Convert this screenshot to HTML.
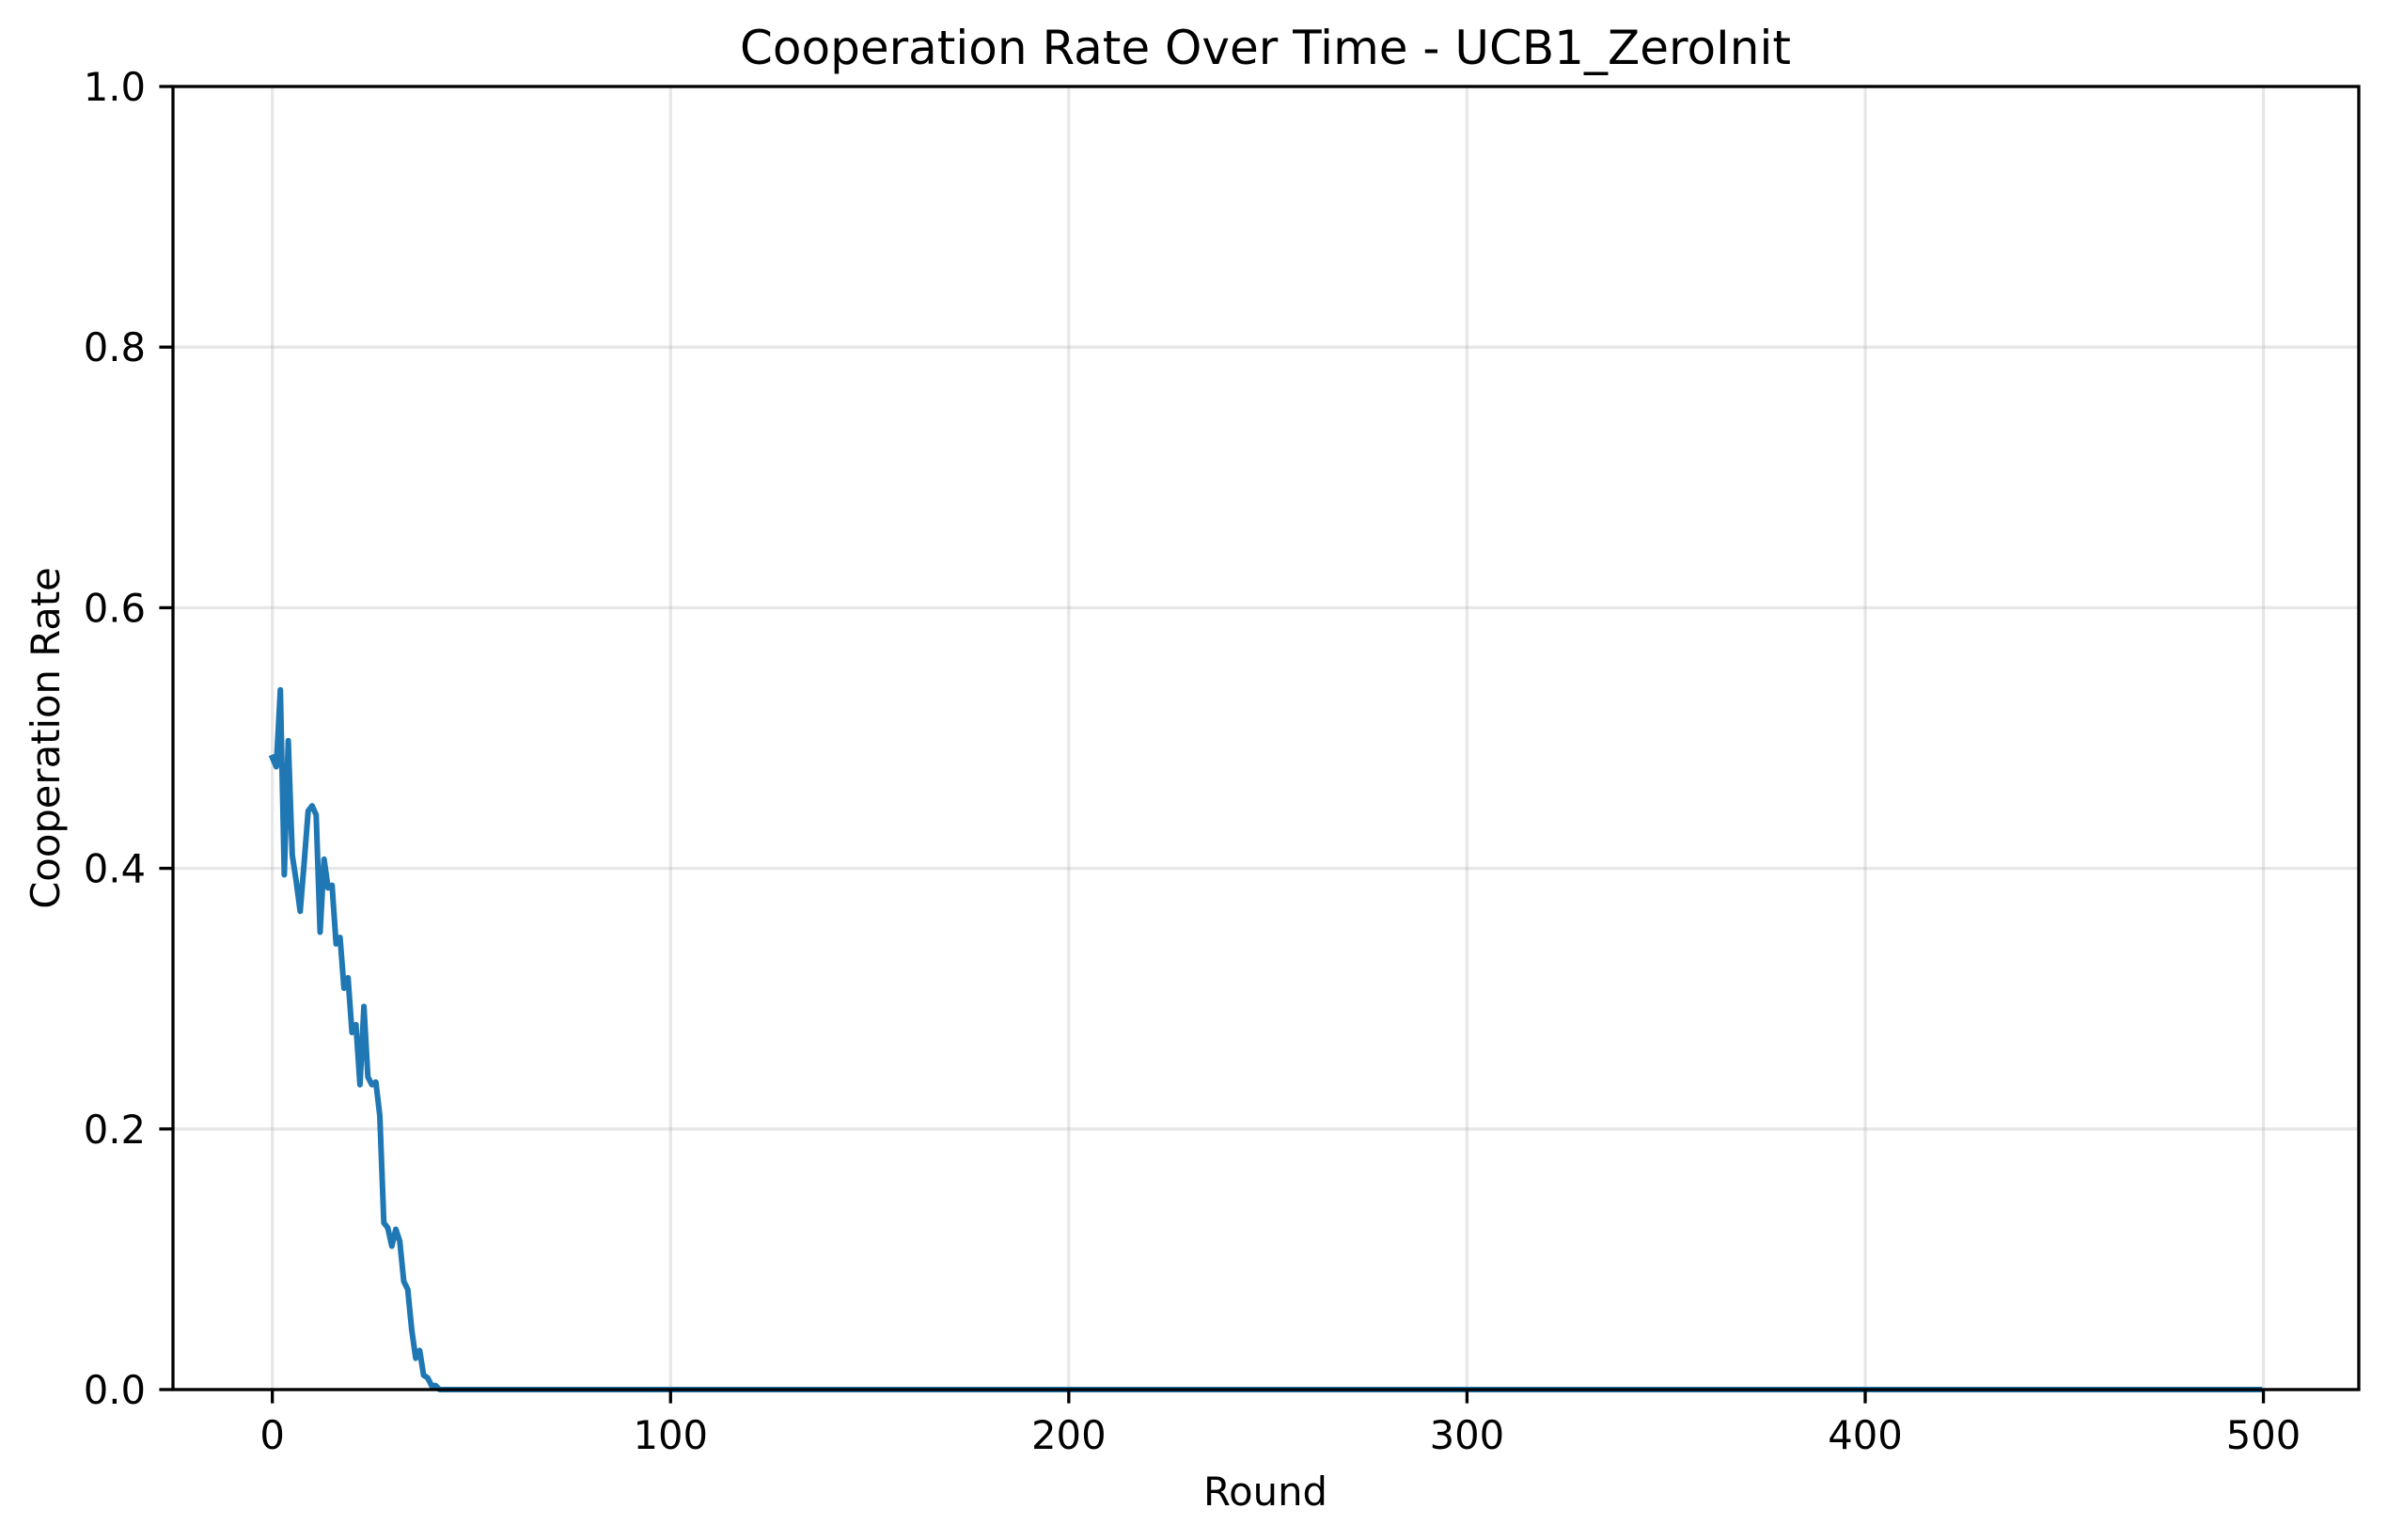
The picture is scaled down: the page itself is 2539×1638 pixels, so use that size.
<!DOCTYPE html>
<html><head><meta charset="utf-8"><style>
html,body{margin:0;padding:0;background:#fff;}
svg{display:block;font-family:"DejaVu Sans","Liberation Sans",sans-serif;}
</style></head><body>
<svg id="chart" width="2539" height="1638" viewBox="0 0 2539 1638" xmlns="http://www.w3.org/2000/svg">
<rect width="2539" height="1638" fill="#fff"/>
<g id="grid"></g>
<g id="series"></g>
<g id="axes"></g>
<text x="1346" y="68" font-size="50" text-anchor="middle">Cooperation Rate Over Time - UCB1_ZeroInit</text>
<text x="1346" y="1601" font-size="41.7" text-anchor="middle">Round</text>
<text x="0" y="0" font-size="41.7" text-anchor="middle" transform="translate(63,785) rotate(-90)">Cooperation Rate</text>
</svg>
<script>
const xTicks = [0, 100, 200, 300, 400, 500];
const yTicks = [0.0, 0.2, 0.4, 0.6, 0.8, 1.0];
const yTickLabels = ["0.0", "0.2", "0.4", "0.6", "0.8", "1.0"];
const earlyRounds = [0,1,2,3,4,5,6,7,8,9,10,11,12,13,14,15,16,17,18,19,20,21,22,23,24,25,26,27,28,29,30,31,32,33,34,35,36,37,38,39,40,41,42];
const earlyRates = [0.485,0.478,0.537,0.395,0.498,0.41,0.39,0.367,0.405,0.444,0.448,0.441,0.351,0.407,0.385,0.387,0.342,0.347,0.308,0.316,0.274,0.28,0.234,0.294,0.24,0.234,0.236,0.21,0.128,0.124,0.11,0.123,0.114,0.083,0.077,0.046,0.024,0.030,0.011,0.009,0.003,0.003,0.0];
const lastRound = 499;
const lateRate = 0.0;

const L=184,R=2509,T=92,B=1478,xmin=-24.95,xmax=523.95;
const sx=v=>L+(v-xmin)/(xmax-xmin)*(R-L);
const sy=v=>B-v*(B-T);
const NS="http://www.w3.org/2000/svg";
function mk(tag,attrs,parent){const e=document.createElementNS(NS,tag);for(const k in attrs)e.setAttribute(k,attrs[k]);parent.appendChild(e);return e;}
const grid=document.getElementById('grid'),axes=document.getElementById('axes'),series=document.getElementById('series');
xTicks.forEach(t=>{
  const g=mk('line',{x1:sx(t),x2:sx(t),y1:T,y2:B,stroke:'#b0b0b0','stroke-opacity':0.3,'stroke-width':3.3},grid);
  
  
  const tk=mk('line',{x1:sx(t),x2:sx(t),y1:B,y2:B+14.6,stroke:'#000','stroke-width':3.3},axes);
  
  
  const tx=mk('text',{x:sx(t),y:B+63,'font-size':41.7,'text-anchor':'middle'},axes);
  tx.textContent=String(t);
  
  
});
yTicks.forEach((t,i)=>{
  const g=mk('line',{x1:L,x2:R,y1:sy(t),y2:sy(t),stroke:'#b0b0b0','stroke-opacity':0.3,'stroke-width':3.3},grid);
  
  
  const tk=mk('line',{x1:L-14.6,x2:L,y1:sy(t),y2:sy(t),stroke:'#000','stroke-width':3.3},axes);
  
  
  const tx=mk('text',{x:L-29,y:sy(t)+15,'font-size':41.7,'text-anchor':'end'},axes);
  tx.textContent=yTickLabels[i];
  
  
});
const frame=mk('rect',{x:L,y:T,width:R-L,height:B-T,fill:'none',stroke:'#000','stroke-width':3.3},axes);


let pts=earlyRounds.map((r,i)=>sx(r).toFixed(1)+','+sy(earlyRates[i]).toFixed(1));
pts.push(sx(lastRound).toFixed(1)+','+sy(lateRate).toFixed(1));
const line=mk('polyline',{points:pts.join(' '),fill:'none',stroke:'#1f77b4','stroke-width':6,'stroke-linejoin':'round','stroke-linecap':'square'},series);


</script>
</body></html>
